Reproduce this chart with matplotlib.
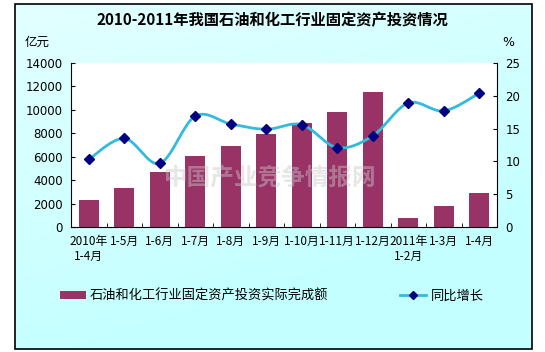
import numpy as np
import matplotlib
matplotlib.use("Agg")
import matplotlib.pyplot as plt
from matplotlib.patches import Rectangle, Patch
from matplotlib.lines import Line2D

plt.rcParams['font.family'] = ['Noto Sans CJK SC', 'DejaVu Sans']

categories = ["2010年\n1-4月", "1-5月", "1-6月", "1-7月", "1-8月", "1-9月", "1-10月",
              "1-11月", "1-12月", "2011年\n1-2月", "1-3月", "1-4月"]
investment = [2300, 3330, 4700, 6060, 6920, 7940, 8900, 9820, 11530, 800, 1790, 2900]
growth = [10.3, 13.5, 9.7, 16.9, 15.7, 14.9, 15.6, 12.1, 13.9, 18.9, 17.7, 20.4]
left_ticks = [0, 2000, 4000, 6000, 8000, 10000, 12000, 14000]
right_ticks = [0, 5, 10, 15, 20, 25]

title = "2010-2011年我国石油和化工行业固定资产投资情况"
bar_label = "石油和化工行业固定资产投资实际完成额"
line_label = "同比增长"
watermark = "中国产业竞争情报网"

W, H = 545, 352
fig = plt.figure(figsize=(W / 100, H / 100), dpi=100)
fig.patch.set_facecolor('white')

# background gradient inside border
bg = fig.add_axes([0, 0, 1, 1], zorder=-10)
bg.set_xlim(0, W); bg.set_ylim(H, 0); bg.axis('off')
gx = np.linspace(0, 1, 200)
gy = np.linspace(0, 1, 200)
GX, GY = np.meshgrid(gx, gy)
t = np.clip(0.35 * GX + 0.75 * GY + 0.2, 0, 1)
c0 = np.array([0.92, 1.0, 1.0])
c1 = np.array([0.77, 1.0, 1.0])
img = c0[None, None, :] * (1 - t[..., None]) + c1[None, None, :] * t[..., None]
bg.imshow(img, extent=[15, 532, 349, 4], aspect='auto', zorder=0)
bg.add_patch(Rectangle((15, 4), 517, 345, fill=False, edgecolor='black', lw=1.2, zorder=2))

ax = fig.add_axes([71 / W, 1 - 227 / H, (497 - 71) / W, (227 - 63) / H])
ax.set_facecolor('white')
x = np.arange(len(categories))
ax.bar(x, investment, width=0.56, color='#993366', zorder=2)
ax.set_xlim(-0.5, len(categories) - 0.5)
ax.set_ylim(0, 14000)
ax.set_yticks(left_ticks)
ax.set_yticklabels([str(v) for v in left_ticks], fontsize=8.5, family=['DejaVu Sans'])
ax.set_xticks(x)
ax.set_xticklabels(categories, fontsize=8.5, linespacing=1.15, va='top')
ax.set_xticks(np.arange(len(categories) + 1) - 0.5, minor=True)
ax.tick_params(axis='x', which='major', length=0, pad=6)
ax.tick_params(axis='x', which='minor', length=3, direction='in')
ax.tick_params(axis='y', direction='in', length=3, pad=6)
ax.spines['top'].set_visible(False)
ax.spines['right'].set_visible(False)

ax.text((270 - 71) / (497 - 71), (227 - 178) / 164, watermark, transform=ax.transAxes,
        ha='center', va='center', fontsize=17, color='#c8c8c8', alpha=0.45, zorder=3,
        fontweight='bold')

ax2 = ax.twinx()
ax2.set_ylim(0, 25)
ax2.set_yticks(right_ticks)
ax2.set_yticklabels([str(v) for v in right_ticks], fontsize=8.5, family=['DejaVu Sans'])
ax2.tick_params(axis='y', direction='in', length=3, pad=6)
for s in ['top', 'left', 'bottom']:
    ax2.spines[s].set_visible(False)


def catmull(xs, ys, n=20):
    xs = np.asarray(xs, float); ys = np.asarray(ys, float)
    P = np.column_stack([xs, ys])
    P = np.vstack([P[0], P, P[-1]])
    out = []
    for i in range(1, len(P) - 2):
        p0, p1, p2, p3 = P[i - 1], P[i], P[i + 1], P[i + 2]
        tt = np.linspace(0, 1, n, endpoint=False)[:, None]
        pts = 0.5 * ((2 * p1) + (-p0 + p2) * tt + (2 * p0 - 5 * p1 + 4 * p2 - p3) * tt ** 2
                     + (-p0 + 3 * p1 - 3 * p2 + p3) * tt ** 3)
        out.append(pts)
    out.append(P[-2][None, :])
    out = np.vstack(out)
    return out[:, 0], out[:, 1]


sx, sy = catmull(x, growth)
ax2.plot(sx, sy, color='#33BBDD', lw=2, zorder=4)
ax2.plot(x, growth, linestyle='none', marker='D', markersize=5, color='#000080', zorder=5)

fig.text(0.5, 1 - 20 / H, title, ha='center', va='center', fontsize=11, fontweight='bold')
fig.text(25 / W, 1 - 42 / H, "亿元", ha='left', va='center', fontsize=9)
fig.text(508 / W, 1 - 42 / H, "%", ha='center', va='center', fontsize=9, family=['DejaVu Sans'])

handles = [Patch(facecolor='#993366'),
           Line2D([0], [0], color='#33BBDD', lw=2, marker='D', markersize=4,
                  markerfacecolor='#000080', markeredgecolor='#000080')]
fig.legend([handles[0]], [bar_label], loc='center left', bbox_to_anchor=(60 / W, 1 - 296 / H),
           frameon=False, fontsize=9.5, handlelength=2.0, handleheight=0.6, handletextpad=0.25,
           borderaxespad=0, borderpad=0)
fig.legend([handles[1]], [line_label], loc='center left', bbox_to_anchor=(400 / W, 1 - 296 / H),
           frameon=False, fontsize=9.5, handlelength=2.0, handletextpad=0.3,
           borderaxespad=0, borderpad=0)

fig.savefig('out.png', dpi=100)
